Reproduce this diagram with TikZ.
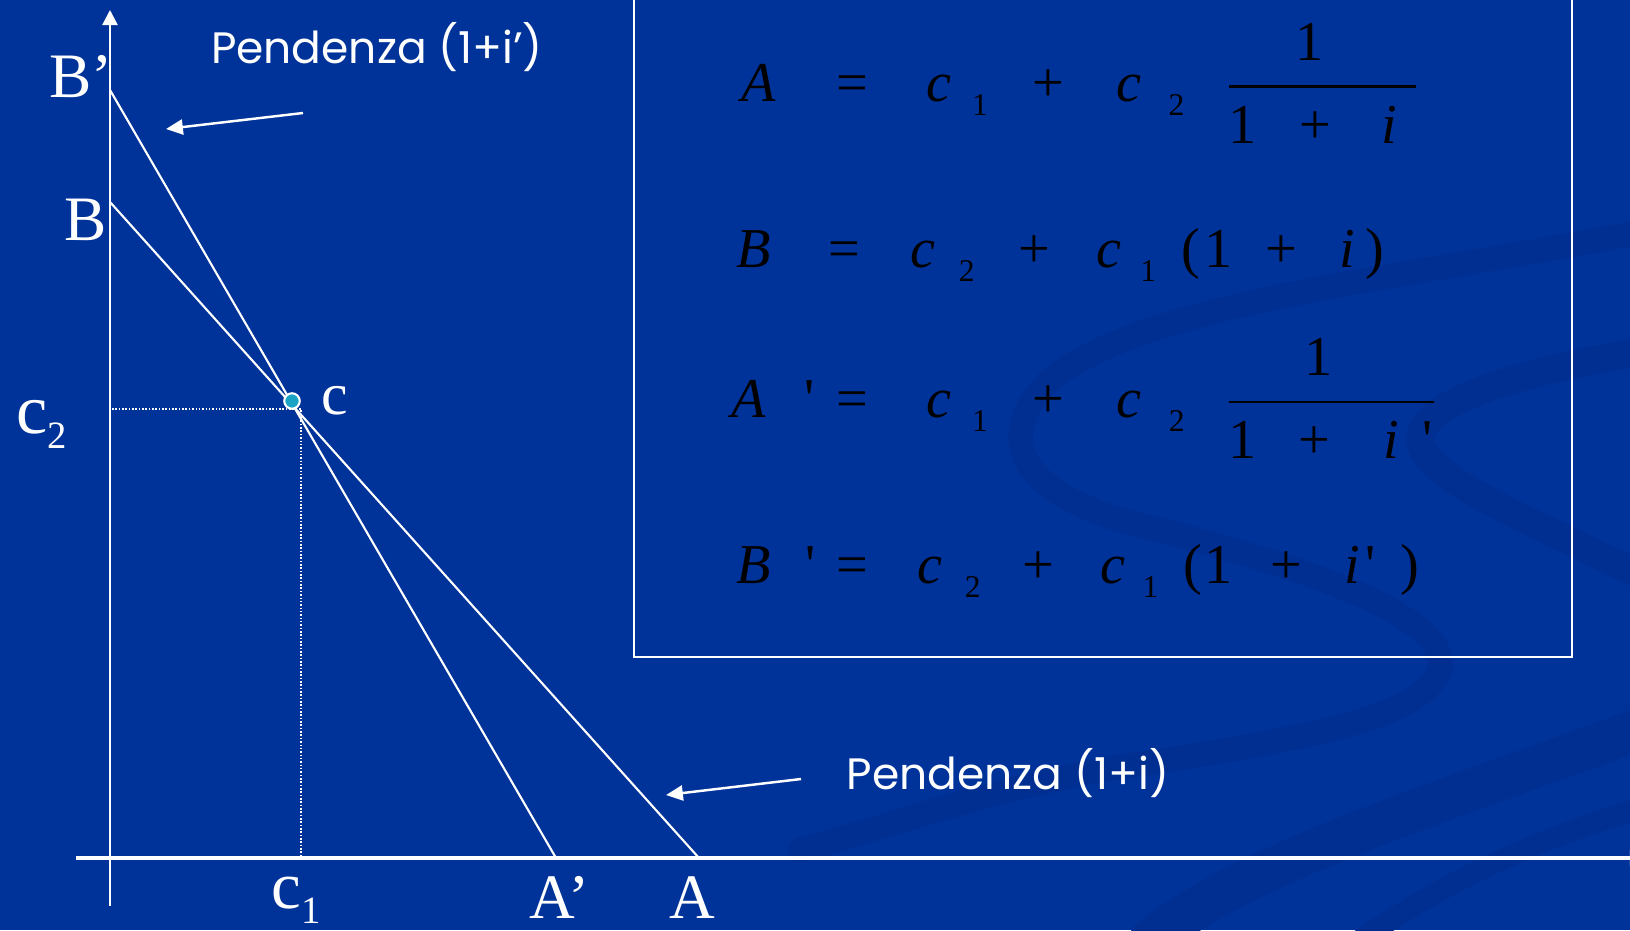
\documentclass[tikz,border=0pt]{standalone}
\usepackage{amsmath}
\usepackage{fontspec}
\setmainfont{Liberation Serif}
\newfontfamily\notefont{Poppins}
\usepackage{tikz}
\usetikzlibrary{arrows.meta}
\definecolor{SlideBlue}{HTML}{003399}
\definecolor{SlideBand}{HTML}{002F91}
\definecolor{PointCyan}{HTML}{1BA3C6}
\newcommand{\lowsub}[3]{\raisebox{-#2}{\fontsize{#1}{#1}\selectfont #3}}
\newcommand{\eqsub}[1]{\lowsub{9}{4.1pt}{#1}}

\begin{document}
\begin{tikzpicture}[
  x=0.01cm, y=-0.01cm,
  axis/.style={white, line width=0.7pt, -{Triangle[length=4.3pt, width=4.3pt]}},
  budget/.style={white, line width=0.6pt},
  guide/.style={white, line width=0.6pt, dash pattern=on 0.45pt off 0.5pt},
  pointer/.style={white, line width=0.7pt, -{Triangle[length=4.8pt, width=4.3pt]}},
  band/.style={SlideBand, line width=7pt, line cap=round},
  lbl/.style={text=white, inner sep=0pt, anchor=base west, font=\fontsize{18}{20}\selectfont},
  note/.style={text=white, inner sep=0pt, anchor=base, font=\notefont\fontsize{12.5}{15}\selectfont},
  eqn/.style={text=black, inner sep=0pt, anchor=base west, font=\fontsize{16}{19}\selectfont},
  dot/.style={circle, draw=white, fill=PointCyan, line width=0.6pt, minimum size=4.4pt, inner sep=0pt}
]
\useasboundingbox (0,0) rectangle (1630,930);
\fill[SlideBlue] (0,0) rectangle (1630,930);

\draw[band] (1650,230) .. controls (1400,280) and (1150,300) .. (1050,380)
  .. controls (990,440) and (1020,500) .. (1160,530)
  .. controls (1330,575) and (1450,620) .. (1440,670)
  .. controls (1420,720) and (1300,740) .. (1100,770)
  .. controls (950,800) and (880,830) .. (800,850);
\draw[band, line width=8pt] (1650,350) .. controls (1500,375) and (1420,405) .. (1420,440)
  .. controls (1425,480) and (1530,520) .. (1650,580);
\draw[band, line width=12pt] (1650,725) .. controls (1450,800) and (1250,860) .. (1150,940);
\draw[band, line width=6pt] (1650,805) .. controls (1500,850) and (1420,900) .. (1360,940);

\draw[white, line width=0.7pt] (634,-10) rectangle (1572,657);

\coordinate (ybot) at (110,906);
\coordinate (ytop) at (110,10);
\coordinate (xleft) at (76,858);
\coordinate (xright) at (1645,858);
\coordinate (Bp) at (110,90);
\coordinate (B) at (110,202);
\coordinate (Ap) at (556,858);
\coordinate (A) at (699,858);
\coordinate (corner) at (301,409);
\coordinate (c2tick) at (112,409);
\coordinate (c1tick) at (301,857);

\draw[axis] (ybot) -- (ytop);
\draw[axis, line width=0.9pt] (xleft) -- (xright);
\draw[budget] (Bp) -- (Ap);
\draw[budget] (B) -- (A);
\draw[guide] (c2tick) -- (corner) -- (c1tick);
\node[dot] (c) at (292,401) {};

\node[lbl] (labBp) at (49,97) {B’};
\node[lbl] (labB) at (64,240) {B};
\node[lbl, font=\fontsize{20}{22}\selectfont] (labc2) at (16,433) {c\lowsub{11}{4.3pt}{2}};
\node[lbl, font=\fontsize{17}{20}\selectfont] (labc) at (321,414) {c};
\node[lbl, font=\fontsize{19}{21}\selectfont] (labc1) at (271,908) {c\lowsub{11}{4.5pt}{1}};
\node[lbl] (labAp) at (529,918) {A’};
\node[lbl] (labA) at (669,918) {A};

\node[note] (slopeNew) at (377,63) {Pendenza (1+i’)};
\node[note] (slopeOld) at (1008,789) {Pendenza (1+i)};
\coordinate (pNewFrom) at (303,113);
\coordinate (pNewTo) at (166,129);
\coordinate (pOldFrom) at (801,779);
\coordinate (pOldTo) at (666,795);
\draw[pointer] (pNewFrom) -- (pNewTo);
\draw[pointer] (pOldFrom) -- (pOldTo);

\node[eqn] (eqA) at (741,101.5) {\textit{A}\hspace{.60cm}=\hspace{.58cm}\textit{c}\hspace{.21cm}\eqsub{1}\hspace{.45cm}+\hspace{.52cm}\textit{c}\hspace{.27cm}\eqsub{2}\hspace{.40cm}$\dfrac{\makebox[1.87cm][l]{\hspace{.67cm}1}}{\makebox[1.87cm][l]{1\hspace{.43cm}+\hspace{.50cm}\textit{i}}}$};
\node[eqn] (eqB) at (736,267) {\textit{B}\hspace{.57cm}=\hspace{.51cm}\textit{c}\hspace{.23cm}\eqsub{2}\hspace{.44cm}+\hspace{.46cm}\textit{c}\hspace{.19cm}\eqsub{1}\hspace{.25cm}(\hspace{.04cm}1\hspace{.33cm}+\hspace{.43cm}\textit{i}\hspace{.10cm})};
\node[eqn] (eqAp) at (731,417) {\textit{A}\hspace{.38cm}\textquotesingle\hspace{.22cm}=\hspace{.58cm}\textit{c}\hspace{.21cm}\eqsub{1}\hspace{.44cm}+\hspace{.53cm}\textit{c}\hspace{.27cm}\eqsub{2}\hspace{.40cm}$\dfrac{\makebox[2.05cm][l]{\hspace{.76cm}1}}{\makebox[2.05cm][l]{1\hspace{.42cm}+\hspace{.53cm}\textit{i}\hspace{.23cm}\textquotesingle}}$};
\node[eqn] (eqBp) at (736,583) {\textit{B}\hspace{.34cm}\textquotesingle\hspace{.21cm}=\hspace{.49cm}\textit{c}\hspace{.23cm}\eqsub{2}\hspace{.42cm}+\hspace{.46cm}\textit{c}\hspace{.17cm}\eqsub{1}\hspace{.25cm}(\hspace{.02cm}1\hspace{.38cm}+\hspace{.42cm}\textit{i}\hspace{.06cm}\textquotesingle\hspace{.25cm})};
\end{tikzpicture}
\end{document}
